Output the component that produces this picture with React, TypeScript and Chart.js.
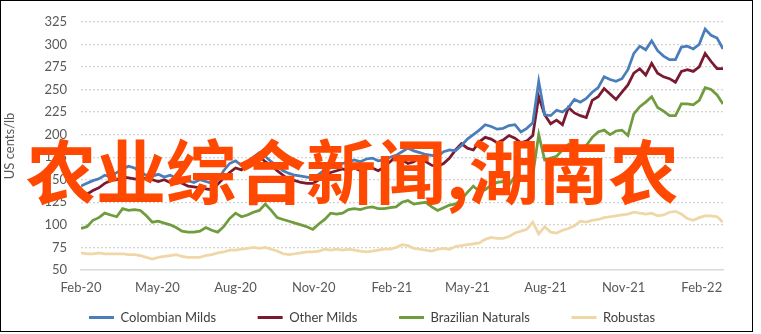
import React, { useEffect, useRef } from 'react';
import { Chart, registerables } from 'chart.js';

Chart.register(...registerables);

// Weekly observations starting 2020-02-01 (x in days since start)
const weekStep = 7;

const xTickDays = [0, 90, 182, 274, 366, 455, 547, 639, 731];
const xTickLabels = ['Feb-20', 'May-20', 'Aug-20', 'Nov-20', 'Feb-21', 'May-21', 'Aug-21', 'Nov-21', 'Feb-22'];

const seriesNames = ['Colombian Milds', 'Other Milds', 'Brazilian Naturals', 'Robustas'];
const seriesColors = ['#4a7ebb', '#7a1a30', '#6f9c3c', '#efd7a7'];

const colombianMilds = [
  143, 146, 149, 151, 155, 153, 158, 162, 165, 163,
  158, 155, 154, 156, 153, 155, 152, 150, 149, 147,
  150, 148, 146, 150, 160, 168, 171, 166, 170, 175,
  180, 176, 170, 165, 160, 157, 155, 154, 153, 151,
  156, 161, 163, 166, 168, 170, 172, 170, 173, 174,
  171, 172, 175, 177, 181, 185, 182, 180, 178, 177,
  176, 181, 183, 182, 188, 195, 200, 205, 211, 209,
  206, 207, 210, 211, 203, 207, 213, 259, 222, 221,
  227, 225, 230, 239, 236, 240, 247, 252, 264, 261,
  259, 262, 272, 290, 298, 294, 304, 293, 287, 283,
  283, 297, 298, 295, 300, 317, 310, 307, 295,
];

const otherMilds = [
  131, 134, 138, 141, 146, 149, 150, 153, 152, 151,
  150, 152, 150, 148, 150, 147, 149, 146, 143, 142,
  141, 140, 139, 145, 152, 158, 163, 161, 168, 174,
  176, 170, 166, 160, 155, 150, 149, 147, 146, 146,
  150, 155, 158, 160, 162, 160, 163, 160, 162, 163,
  160, 164, 170, 176, 172, 168, 170, 175, 170, 166,
  165, 168, 174, 183, 190, 185, 183, 192, 197, 195,
  191, 194, 199, 196, 191, 193, 199, 242, 222, 212,
  216, 211, 230, 224, 221, 219, 238, 242, 251, 245,
  239, 247, 255, 268, 273, 266, 279, 268, 264, 262,
  258, 270, 272, 270, 275, 290, 281, 273, 273,
];

const brazilianNaturals = [
  96, 98, 105, 108, 113, 111, 109, 118, 116, 117,
  116, 110, 103, 104, 102, 100, 97, 93, 92, 92,
  93, 97, 94, 92, 98, 107, 113, 109, 111, 114,
  116, 123, 116, 108, 106, 104, 102, 100, 98, 95,
  101, 106, 113, 112, 113, 117, 118, 117, 119, 120,
  118, 118, 119, 120, 125, 127, 123, 124, 125, 120,
  116, 119, 122, 123, 128, 136, 143, 137, 139, 144,
  147, 148, 144, 154, 150, 150, 155, 200, 172, 174,
  176, 183, 189, 182, 185, 188, 197, 203, 205, 200,
  204, 205, 199, 223, 231, 236, 242, 230, 226, 221,
  221, 234, 234, 233, 238, 252, 250, 244, 234,
];

const robustas = [
  69, 68, 68, 69, 68, 68, 68, 68, 67, 67,
  66, 64, 62, 64, 65, 66, 67, 65, 64, 64,
  64, 66, 67, 69, 70, 72, 72, 73, 74, 75,
  74, 75, 73, 71, 68, 67, 68, 69, 70, 70,
  71, 73, 72, 73, 72, 73, 72, 71, 70, 71,
  72, 73, 73, 75, 78, 77, 74, 73, 72, 71,
  73, 74, 73, 76, 77, 78, 79, 80, 84, 86,
  85, 85, 87, 91, 93, 95, 103, 90, 98, 92,
  91, 94, 96, 99, 104, 103, 105, 106, 108, 109,
  110, 111, 112, 114, 113, 112, 113, 110, 111, 114,
  115, 112, 107, 105, 108, 110, 110, 109, 103,
];

const allSeries = [colombianMilds, otherMilds, brazilianNaturals, robustas];

const yMin = 50;
const yMax = 325;
const yStep = 25;
const yTitle = 'US cents/lb';
const overlayText = '农业综合新闻,湖南农';

const FONT_FAMILY = 'Lato, "Liberation Sans", sans-serif';
const FONT_SIZE = 13;

export default function App() {
  const canvasRef = useRef<HTMLCanvasElement | null>(null);

  useEffect(() => {
    const canvas = canvasRef.current;
    if (!canvas) return;

    const measure = document.createElement('canvas').getContext('2d') as CanvasRenderingContext2D;
    measure.font = `${FONT_SIZE}px ${FONT_FAMILY}`;
    const spaceW = measure.measureText(' ').width || 3;
    const spacer = ' '.repeat(Math.max(0, Math.round(37 / spaceW)));

    const datasets = allSeries.map((vals, i) => ({
      label: seriesNames[i],
      data: vals.map((v, k) => ({ x: k * weekStep, y: v })),
      borderColor: seriesColors[i],
      backgroundColor: seriesColors[i],
      borderWidth: 2.75,
      pointRadius: 0,
      tension: 0,
      fill: false,
    }));

    const font = { family: FONT_FAMILY, size: FONT_SIZE };
    const lastX = (colombianMilds.length - 1) * weekStep;

    const chart = new Chart(canvas, {
      type: 'line',
      data: { datasets },
      options: {
        animation: false,
        responsive: false,
        devicePixelRatio: 1,
        layout: { padding: { left: 0, right: 17, top: 21, bottom: 0 } },
        plugins: {
          tooltip: { enabled: false },
          legend: {
            position: 'bottom',
            labels: {
              boxWidth: 25,
              boxHeight: 3,
              padding: 5,
              color: '#404040',
              font,
              generateLabels: (ch: any) =>
                ch.data.datasets.map((ds: any, i: number) => ({
                  text: i < ch.data.datasets.length - 1 ? ds.label + spacer : ds.label,
                  fillStyle: ds.borderColor,
                  strokeStyle: ds.borderColor,
                  lineWidth: 0,
                  hidden: false,
                  datasetIndex: i,
                  fontColor: '#404040',
                })),
            },
          },
        },
        scales: {
          x: {
            type: 'linear',
            min: 0,
            max: lastX,
            grid: { display: false, drawTicks: false },
            border: { display: true, color: '#d9d9d9', width: 1.5 },
            ticks: {
              padding: 10,
              color: '#595959',
              font,
              autoSkip: false,
              maxRotation: 0,
              callback: (v: any) => {
                const idx = xTickDays.indexOf(Number(v));
                return idx >= 0 ? xTickLabels[idx] : '';
              },
            },
            afterBuildTicks: (s: any) => {
              s.ticks = xTickDays.map((d) => ({ value: d }));
            },
            afterFit: (s: any) => {
              s.height = 36;
            },
          },
          y: {
            min: yMin,
            max: yMax,
            ticks: { stepSize: yStep, padding: 14, color: '#595959', font },
            grid: {
              drawTicks: false,
              lineWidth: 1.3,
              color: (ctx: any) => (ctx.tick && ctx.tick.value === yMin ? 'rgba(0,0,0,0)' : '#d4d4d4'),
            },
            border: { display: false, dash: [2, 2] },
            title: {
              display: true,
              text: yTitle,
              color: '#595959',
              font,
              padding: { top: 2, bottom: 0 },
            },
            afterFit: (s: any) => {
              s.width = 81;
            },
          },
          y2: {
            position: 'right',
            display: true,
            grid: { display: false, drawTicks: false },
            border: { display: false },
            ticks: { display: false },
            afterFit: (s: any) => {
              s.width = 21;
            },
          },
        },
      },
    } as any);

    return () => chart.destroy();
  }, []);

  return (
    <div style={{ position: 'fixed', left: 0, top: 0, width: 761, height: 334, background: '#fff', overflow: 'hidden' }}>
      <canvas ref={canvasRef} width={761} height={334} style={{ position: 'absolute', left: 0, top: 0, width: 761, height: 334 }} />
      <div
        style={{
          position: 'absolute',
          left: 26,
          top: 134,
          fontFamily: '"Noto Sans CJK SC", sans-serif',
          fontWeight: 700,
          fontSize: 70,
          lineHeight: '70px',
          color: '#ff4800',
          whiteSpace: 'nowrap',
          pointerEvents: 'none',
        }}
      >
        {overlayText}
      </div>
      <div
        style={{
          position: 'absolute',
          left: 0,
          top: 0,
          width: 753,
          height: 332,
          boxSizing: 'border-box',
          border: '1px solid #000',
          pointerEvents: 'none',
        }}
      />
    </div>
  );
}
